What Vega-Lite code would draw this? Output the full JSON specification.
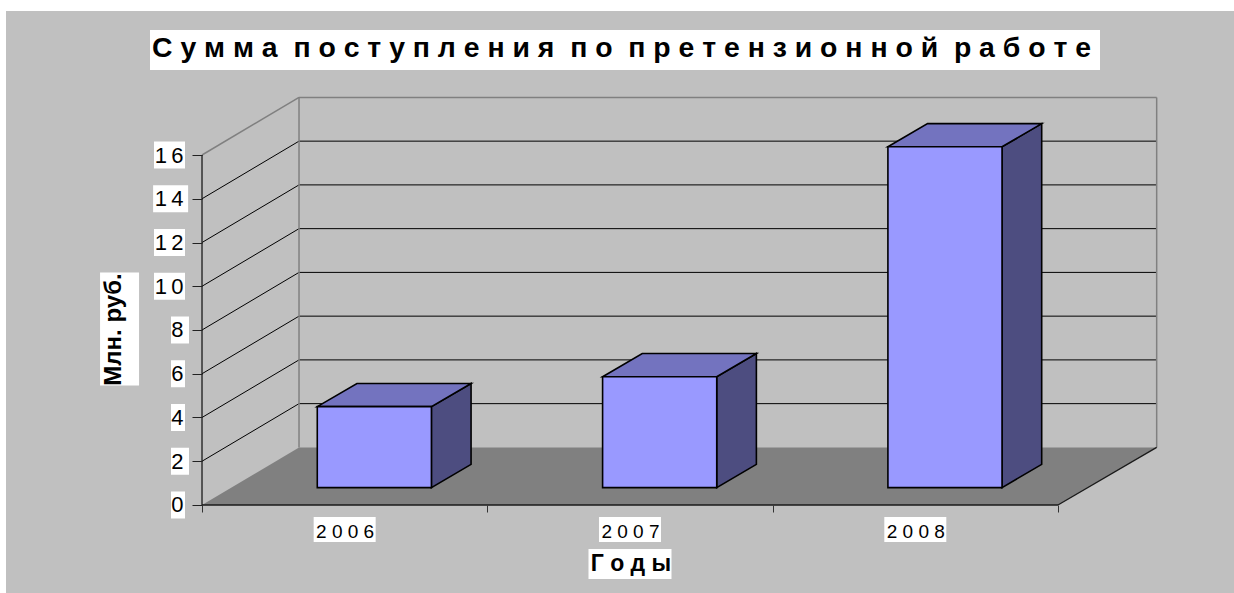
{"$schema":"https://vega.github.io/schema/vega-lite/v6.json","width":1228,"height":582,"autosize":"none","padding":{"left":6,"top":11,"right":0,"bottom":0},"background":"white","view":{"fill":"#c0c0c0","stroke":null},
"title":{"text":"С у м м а \u00a0п о с т у п л е н и я \u00a0п о \u00a0п р е т е н з и о н н о й \u00a0р а б о т е","font":"Liberation Sans","fontWeight":"bold","fontSize":28.4,"color":"black","anchor":"start","frame":"group","offset":-52,"dx":146},
"config":{"font":"Liberation Sans"},
"datasets":{"bars":[{"year":2006,"pos":0,"value":3.7},{"year":2007,"pos":1,"value":5.07},{"year":2008,"pos":2,"value":15.58}],
"grid":[{"level":2},{"level":4},{"level":6},{"level":8},{"level":10},{"level":12},{"level":14}],
"ticks":[{"level":0},{"level":2},{"level":4},{"level":6},{"level":8},{"level":10},{"level":12},{"level":14},{"level":16}],
"years":[{"pos":0.5},{"pos":1.5},{"pos":2.5}],
"floor":[{"fx":0,"ft":0,"fb":0},{"fx":0.34,"ft":2.633,"fb":0},{"fx":3,"ft":2.633,"fb":0},{"fx":3.346,"ft":2.633,"fb":2.633}],
"wall":[{"x1":0,"x2":0.34,"y1":16,"y2":18.633},{"x1":0.34,"x2":3.346,"y1":18.633,"y2":18.633},{"x1":3.346,"x2":3.346,"y1":2.633,"y2":18.633},{"x1":0.34,"x2":0.34,"y1":2.633,"y2":18.633}],
"edges":[{"x1":0,"x2":0,"y1":0,"y2":16},{"x1":0,"x2":3,"y1":0,"y2":0},{"x1":3,"x2":3.346,"y1":0,"y2":2.633}]},
"layer":[
{"data":{"name":"floor"},"mark":{"type":"area","fill":"#808080"},"encoding":{
"x":{"field":"fx","type":"quantitative","scale":{"domain":[-0.687,3.617],"nice":false,"zero":false},"axis":{"values":[0,1,2,3],"orient":"bottom","offset":-88,"zindex":1,"title":"Г о д ы","titleFont":"Liberation Sans","titleFontWeight":"bold","titleFontSize":23,"titleColor":"black","titleX":624.5,"titleY":47,"domain":false,"tickColor":"#333333","tickSize":7,"grid":false,"labelExpr":"['2 0 0 6','2 0 0 7','2 0 0 8',''][datum.value]","labelFont":"Liberation Sans","labelFontSize":19,"labelColor":"black","labelOffset":142.6,"labelPadding":10,"labelOverlap":false,"labelBound":false,"labelFlush":false}},
"y":{"field":"ft","type":"quantitative","scale":{"domain":[-4.023,22.583],"nice":false,"zero":false},"axis":{"values":[0,2,4,6,8,10,12,14,16],"orient":"left","offset":-196,"zindex":1,"title":"Млн. руб.","titleFont":"Liberation Sans","titleFontWeight":"bold","titleFontSize":24,"titleColor":"black","titleX":-77,"titleY":318,"domain":false,"tickColor":"#222222","tickSize":10,"grid":false,"labelExpr":"length(datum.label)==2 ? substring(datum.label,0,1)+'\u2009'+substring(datum.label,1,2) : datum.label","labelFont":"Liberation Sans","labelFontSize":22,"labelColor":"black","labelPadding":9,"labelOverlap":false,"labelBound":false,"labelFlush":false}},
"y2":{"field":"fb"}}},
{"data":{"name":"grid"},"transform":[{"calculate":"datum.level+2.633","as":"back"}],"mark":{"type":"rule","color":"black","strokeWidth":1},"encoding":{"x":{"datum":0.34,"type":"quantitative"},"x2":{"datum":3.346},"y":{"field":"back","type":"quantitative"}}},
{"data":{"name":"grid"},"transform":[{"calculate":"datum.level+2.633","as":"back"}],"mark":{"type":"rule","color":"black","strokeWidth":1},"encoding":{"x":{"datum":0,"type":"quantitative"},"x2":{"datum":0.34},"y":{"field":"level","type":"quantitative"},"y2":{"field":"back"}}},
{"data":{"name":"wall"},"mark":{"type":"rule","color":"#808080","strokeWidth":1.5},"encoding":{"x":{"field":"x1","type":"quantitative"},"x2":{"field":"x2"},"y":{"field":"y1","type":"quantitative"},"y2":{"field":"y2"}}},
{"data":{"name":"edges"},"mark":{"type":"rule","color":"#1a1a1a","strokeWidth":1.3},"encoding":{"x":{"field":"x1","type":"quantitative"},"x2":{"field":"x2"},"y":{"field":"y1","type":"quantitative"},"y2":{"field":"y2"}}},
{"data":{"name":"bars"},"transform":[{"calculate":"[datum.pos+0.804,datum.pos+0.943]","as":"sx"},{"calculate":"[datum.value+0.795,datum.value+1.856]","as":"st"},{"calculate":"[0.795,1.856]","as":"sb"},{"flatten":["sx","st","sb"]}],"mark":{"type":"area","fill":"#4d4d80","stroke":"black","strokeWidth":1.6,"strokeJoin":"miter"},"encoding":{"detail":{"field":"year"},"x":{"field":"sx","type":"quantitative"},"y":{"field":"st","type":"quantitative"},"y2":{"field":"sb"}}},
{"data":{"name":"bars"},"transform":[{"calculate":"datum.pos+0.404","as":"x0"},{"calculate":"datum.value+0.795","as":"v0"},{"calculate":"[datum.x0,datum.x0+0.139,datum.x0+0.4,datum.x0+0.539]","as":"tx"},{"calculate":"[datum.v0,datum.v0+1.061,datum.v0+1.061,datum.v0+1.061]","as":"tt"},{"calculate":"[datum.v0,datum.v0,datum.v0,datum.v0+1.061]","as":"tb"},{"flatten":["tx","tt","tb"]}],"mark":{"type":"area","fill":"#7373bf","stroke":"black","strokeWidth":1.6,"strokeJoin":"miter"},"encoding":{"detail":{"field":"year"},"x":{"field":"tx","type":"quantitative"},"y":{"field":"tt","type":"quantitative"},"y2":{"field":"tb"}}},
{"data":{"name":"bars"},"transform":[{"calculate":"datum.pos+0.404","as":"x0"},{"calculate":"datum.pos+0.804","as":"x1"},{"calculate":"datum.value+0.795","as":"v0"},{"calculate":"0.795","as":"v1"}],"mark":{"type":"rect","fill":"#9999ff","stroke":"black","strokeWidth":1.6},"encoding":{"x":{"field":"x0","type":"quantitative"},"x2":{"field":"x1"},"y":{"field":"v0","type":"quantitative"},"y2":{"field":"v1"}}},
{"data":{"name":"ticks"},"transform":[{"filter":"datum.level==0||datum.level==4||datum.level==6"}],"mark":{"type":"rect","fill":"white","width":14,"height":27,"xOffset":-24},"encoding":{"x":{"datum":0,"type":"quantitative"},"y":{"field":"level","type":"quantitative"}}},
{"data":{"name":"ticks"},"transform":[{"filter":"datum.level==2||datum.level==8"}],"mark":{"type":"rect","fill":"white","width":18,"height":27,"xOffset":-22},"encoding":{"x":{"datum":0,"type":"quantitative"},"y":{"field":"level","type":"quantitative"}}},
{"data":{"name":"ticks"},"transform":[{"filter":"datum.level==10||datum.level==12||datum.level==16"}],"mark":{"type":"rect","fill":"white","width":31,"height":27,"xOffset":-32.5},"encoding":{"x":{"datum":0,"type":"quantitative"},"y":{"field":"level","type":"quantitative"}}},
{"data":{"name":"ticks"},"transform":[{"filter":"datum.level==14"}],"mark":{"type":"rect","fill":"white","width":35,"height":27,"xOffset":-31.4},"encoding":{"x":{"datum":0,"type":"quantitative"},"y":{"field":"level","type":"quantitative"}}},
{"data":{"name":"years"},"mark":{"type":"rect","fill":"white","width":62,"height":25},"encoding":{"x":{"field":"pos","type":"quantitative"},"y":{"datum":-1.12,"type":"quantitative"}}},
{"data":{"values":[{"box":"x title"}]},"mark":{"type":"rect","fill":"white","width":83,"height":30},"encoding":{"x":{"datum":1.5,"type":"quantitative"},"y":{"datum":-2.697,"type":"quantitative"}}},
{"data":{"values":[{"box":"y title"}]},"mark":{"type":"rect","fill":"white","width":39,"height":113},"encoding":{"x":{"datum":-0.289,"type":"quantitative"},"y":{"datum":8.05,"type":"quantitative"}}},
{"data":{"values":[{"box":"title"}]},"mark":{"type":"rect","fill":"white","width":950,"height":40},"encoding":{"x":{"datum":1.4825,"type":"quantitative"},"y":{"datum":20.8,"type":"quantitative"}}}
]}
